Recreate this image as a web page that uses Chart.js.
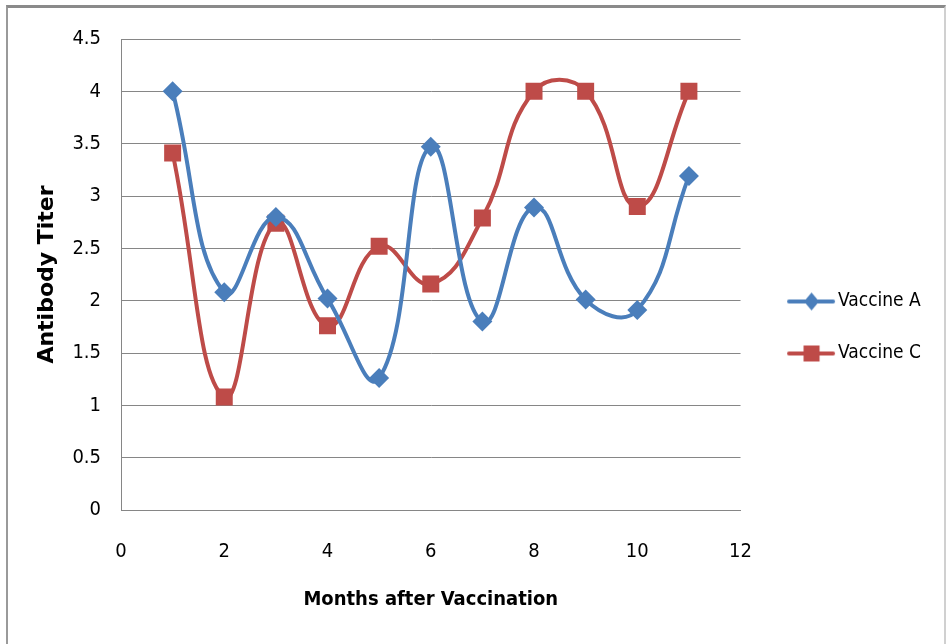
<!DOCTYPE html>
<html>
<head>
<meta charset="utf-8">
<script src="https://cdn.jsdelivr.net/npm/chart.js@4.4.1/dist/chart.umd.min.js"></script>
<style>
  html, body { margin: 0; padding: 0; background: #fff; }
  #wrap { position: relative; width: 946px; height: 644px; }
  #frame { position: absolute; left: 6px; top: 5px; width: 936px; height: 660px;
           border-top: 3px solid #8a8a8a; border-left: 2px solid #9a9a9a; border-right: 2px solid #d0d0d0;
           pointer-events: none; }
</style>
</head>
<body>
<div id="wrap">
  <canvas id="c" width="946" height="644"></canvas>
  <div id="frame"></div>
</div>
<script>
const months = [1, 2, 3, 4, 5, 6, 7, 8, 9, 10, 11];
const vaccineA = [4.0, 2.08, 2.8, 2.02, 1.26, 3.47, 1.8, 2.89, 2.01, 1.91, 3.19];
const vaccineC = [3.41, 1.08, 2.74, 1.76, 2.52, 2.16, 2.79, 4.0, 4.0, 2.9, 4.0];
const yTicks = [0, 0.5, 1, 1.5, 2, 2.5, 3, 3.5, 4, 4.5];
const xTicks = [0, 2, 4, 6, 8, 10, 12];

const BLUE = '#4A7EBB';
const RED = '#BE4B48';
const NARROW = "'Liberation Sans Narrow', 'DejaVu Sans Condensed', sans-serif";

function legendIcon(color, style) {
  const cv = document.createElement('canvas');
  cv.width = 70; cv.height = 22;
  const g = cv.getContext('2d');
  g.strokeStyle = color; g.lineWidth = 4; g.lineCap = 'round';
  g.beginPath(); g.moveTo(23, 11); g.lineTo(67, 11); g.stroke();
  g.fillStyle = color;
  if (style === 'diamond') {
    g.beginPath(); g.moveTo(45.5, 2); g.lineTo(53, 11); g.lineTo(45.5, 20); g.lineTo(38, 11); g.closePath(); g.fill();
  } else {
    g.fillRect(37.5, 3, 16, 16);
  }
  return cv;
}
const iconA = legendIcon(BLUE, 'diamond');
const iconC = legendIcon(RED, 'square');

const toPts = (xs, ys) => xs.map((x, i) => ({ x: x, y: ys[i] }));

new Chart(document.getElementById('c'), {
  type: 'line',
  data: {
    datasets: [
      { label: 'Vaccine A', data: toPts(months, vaccineA), borderColor: BLUE, backgroundColor: BLUE,
        borderWidth: 4, tension: 0.45, pointStyle: 'rectRot', pointRadius: 10, pointHoverRadius: 10,
        pointBorderWidth: 0, fill: false },
      { label: 'Vaccine C', data: toPts(months, vaccineC), borderColor: RED, backgroundColor: RED,
        borderWidth: 4, tension: 0.45, pointStyle: 'rect', pointRadius: 12, pointHoverRadius: 12,
        pointBorderWidth: 0, fill: false }
    ]
  },
  options: {
    responsive: false,
    animation: false,
    events: [],
    layout: { padding: { left: 30, top: 39, right: 15, bottom: 28 } },
    plugins: {
      tooltip: { enabled: false },
      legend: {
        position: 'right',
        labels: {
          usePointStyle: true,
          pointStyleWidth: 55,
          padding: 33,
          color: '#000',
          font: { family: NARROW, size: 19 },
          generateLabels: (chart) => chart.data.datasets.map((d, i) => ({
            text: d.label, pointStyle: i === 0 ? iconA : iconC, fillStyle: d.borderColor,
            strokeStyle: d.borderColor, lineWidth: 0, hidden: false, datasetIndex: i, fontColor: '#000'
          }))
        }
      }
    },
    scales: {
      x: {
        type: 'linear', min: 0, max: 12,
        afterBuildTicks: (s) => { s.ticks = xTicks.map(v => ({ value: v })); },
        grid: { display: false, drawTicks: false },
        border: { display: true, color: '#868686', width: 1 },
        ticks: { color: '#000', padding: 30, font: { family: NARROW, size: 20 }, callback: (v) => String(v) },
        title: { display: true, text: 'Months after Vaccination', color: '#000',
                 font: { family: NARROW, size: 20, weight: 'bold' }, padding: { top: 4 } },
        afterFit: (s) => { s.height = 644 - 510 - 28; }
      },
      y: {
        min: 0, max: 4.5,
        afterBuildTicks: (s) => { s.ticks = yTicks.map(v => ({ value: v })); },
        grid: { color: '#868686', lineWidth: 1, drawTicks: false },
        border: { display: true, color: '#868686', width: 1 },
        ticks: { color: '#000', padding: 20, font: { family: NARROW, size: 20 }, callback: (v) => String(v) },
        title: { display: true, text: 'Antibody Titer', color: '#000',
                 font: { family: "'DejaVu Sans', sans-serif", size: 22, weight: 'bold' }, padding: { bottom: 21 } },
        afterFit: (s) => { s.width = 121 - 30; }
      }
    }
  }
});
</script>
</body>
</html>
